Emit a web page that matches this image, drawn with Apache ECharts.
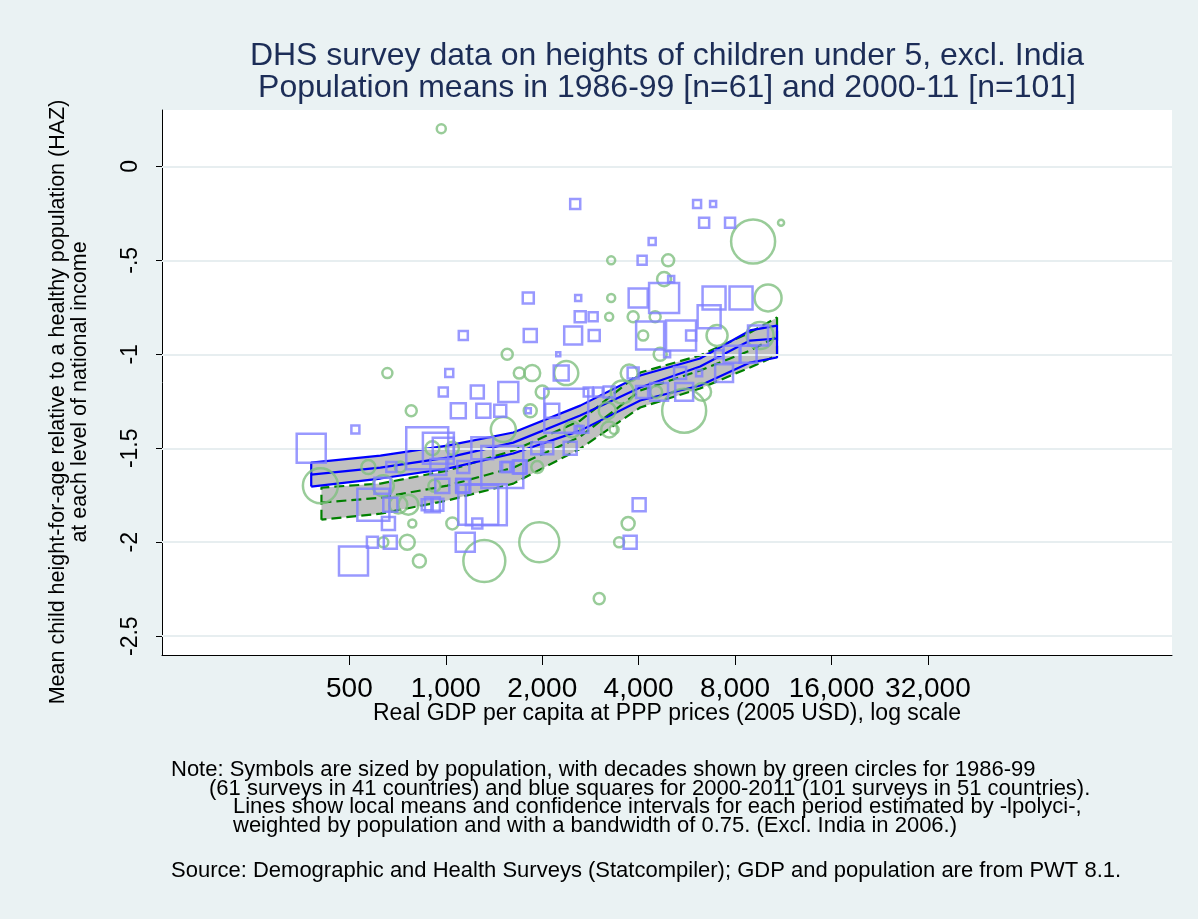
<!DOCTYPE html>
<html><head><meta charset="utf-8">
<script src="https://cdn.jsdelivr.net/npm/echarts@6/dist/echarts.min.js"></script>
<style>html,body{margin:0;padding:0;background:#eaf2f3}#c{width:1198px;height:919px}</style>
</head><body><div id="c"></div>
<script>
// ---------- data ----------
const xTicks = [500, 1000, 2000, 4000, 8000, 16000, 32000];
const yTicks = [-2.5, -2, -1.5, -1, -0.5, 0];
const yTickLabels = ['-2.5', '-2', '-1.5', '-1', '-.5', '0'];

// 1986-99 surveys (green circles): GDP per capita, HAZ, population weight
const greenGdp = [968,3283,4945,4803,3283,3845,4504,3236,4132,9107,11134,10141,7028,9573,4669,3737,2377,3553,3191,3236,3354,4535,6312,5548,3709,3477,3013,780,2000,1835,1555,657,1696,1861,1512,406,573,721,908,1048,638,711,764,786,1048,921,1319,1958,638,758,827,1930,2481];
const greenHaz = [0.2,-0.5,-0.5,-0.6,-0.7,-0.8,-0.8,-0.8,-0.9,-0.4,-0.3,-0.7,-0.9,-0.9,-1.0,-1.1,-1.1,-1.2,-1.3,-1.4,-1.4,-1.2,-1.2,-1.3,-1.9,-2.0,-2.3,-1.3,-1.2,-1.3,-1.0,-1.1,-1.1,-1.1,-1.4,-1.7,-1.6,-1.6,-1.5,-1.5,-1.7,-1.8,-1.8,-1.9,-1.9,-1.7,-2.1,-2.0,-2.0,-2.0,-2.1,-1.6,-1.4];
const greenPop = [5.1,4,9,12.3,4,7.6,7.6,4,6.3,121,2.3,45.6,27.6,45.6,10.6,18,36,33,18,16,5.1,9,20,121,10.6,6.3,7.6,7.6,10.6,10.6,7.6,6.3,7.6,16,39,76.6,12.3,7.6,12.3,10.6,27.6,20,25,4,9,9,110,100,6.3,14,10.6,9,16];

// 2000-11 surveys (blue squares)
const blueGdp = [2535,4408,4101,5053,1809,2590,3986,4803,2628,2884,1134,1835,2498,2906,4344,6088,6831,6404,7716,6878,8351,6639,5426,5832,9434,4908,3845,2292,5389,6177,7392,7130,7830,8785,2628,2784,2990,3236,4101,4634,5548,2445,4014,3763,982,1254,1567,1094,1310,1479,2149,1025,2244,522,380,676,875,948,982,1300,1501,1534,1708,1930,2073,2377,634,594,671,662,590,671,515,875,941,975,1134,948,1263,1338,1254,1150,1555,1696,2590,1128,1134,908,1809];
const blueHaz = [-0.2,-0.4,-0.5,-0.6,-0.7,-0.7,-0.7,-0.7,-0.8,-0.8,-0.9,-0.9,-0.9,-0.9,-0.9,-0.2,-0.2,-0.3,-0.3,-0.7,-0.7,-0.8,-0.9,-0.9,-0.9,-1.0,-1.1,-1.1,-1.1,-1.1,-1.1,-1.0,-1.0,-1.0,-1.4,-1.2,-1.2,-1.2,-1.2,-1.2,-1.2,-1.5,-1.8,-2.0,-1.2,-1.2,-1.2,-1.3,-1.3,-1.3,-1.3,-1.1,-1.0,-1.4,-1.5,-1.6,-1.5,-1.5,-1.5,-1.5,-1.6,-1.6,-1.6,-1.5,-1.5,-1.3,-1.7,-1.8,-1.8,-1.9,-2.0,-2.0,-2.1,-1.8,-1.8,-1.7,-1.7,-1.6,-1.8,-1.8,-1.9,-2.0,-1.6,-1.6,-1.4,-1.7,-1.6,-1.8,-1.3];
const bluePop = [6.3,3.1,5.1,2.3,7.6,2.3,22.6,56.3,7.6,5.1,5.1,10.6,20,7.6,49,4,2.3,6.3,6.3,33,33,33,56.3,6.3,25,2.3,7.6,14,9,2.3,20,4,18,18,3.1,5.1,5.1,7.6,9,20,20,10.6,10.6,10.6,5.1,10.6,25,14,12.3,9,12.3,4,1,4,52.6,6.3,110,60,27.6,30,110,6.3,10.6,9,9,121,16,64,12.3,10.6,7.6,10.6,52.6,7.6,9,12.3,12.3,16,100,105,6.3,22.6,6.3,10.6,3.1,10.6,9,14,1.6];

// local means and confidence intervals (lpolyci)
const blueBandX = [380, 625, 1011, 1624, 2628, 4045, 6221, 8909, 10816];
const blueUpper = [-1.576, -1.539, -1.486, -1.416, -1.273, -1.113, -1.022, -0.873, -0.847];
const blueMean  = [-1.640, -1.603, -1.550, -1.470, -1.326, -1.177, -1.065, -0.927, -0.916];
const blueLower = [-1.704, -1.661, -1.608, -1.528, -1.406, -1.246, -1.166, -1.044, -1.017];

const greenBandX = [409, 625, 1011, 1624, 2628, 4045, 6221, 8909, 10816];
const greenUpper = [-1.709, -1.688, -1.619, -1.512, -1.353, -1.097, -1.006, -0.884, -0.804];
const greenMean  = [-1.789, -1.763, -1.699, -1.603, -1.438, -1.193, -1.086, -0.980, -0.905];
const greenLower = [-1.880, -1.848, -1.778, -1.688, -1.502, -1.283, -1.182, -1.070, -1.006];

// ---------- build ----------
const FONT = '"Liberation Sans", Arial, sans-serif';
const zip2 = (a, b) => a.map((v, i) => [v, b[i]]);
const zip3 = (a, b, c) => a.map((v, i) => [v, b[i], c[i]]);
function outline(x, up, lo) {
  return [[x[0], lo[0]]].concat(zip2(x, up), zip2(x, lo).reverse());
}
function bandFill(x, up, lo) {
  return {
    type: 'custom', silent: true, z: 2, animation: false,
    data: [[x[0], up[0]]],
    renderItem: (p, api) => {
      const pts = [];
      for (let i = 0; i < x.length; i++) pts.push(api.coord([x[i], up[i]]));
      for (let i = x.length - 1; i >= 0; i--) pts.push(api.coord([x[i], lo[i]]));
      return { type: 'polygon', shape: { points: pts }, style: { fill: '#c0c0c0' } };
    }
  };
}
function lineS(data, color, dash, z) {
  return { type: 'line', data: data, symbol: 'none', silent: true, z: z, animation: false,
    lineStyle: { color: color, width: 2.2, type: dash ? [10, 5] : 'solid' } };
}
function txt(x, y, s, size, opts) {
  return Object.assign({ type: 'text', x: x, y: y, silent: true,
    style: Object.assign({ text: s, font: size + 'px ' + FONT, fill: '#000', textVerticalAlign: 'middle', verticalAlign: 'middle' }, opts || {}) });
}
const C = { textAlign: 'center', align: 'center' };

const chart = echarts.init(document.getElementById('c'));
chart.setOption({
  backgroundColor: '#eaf2f3',
  animation: false,
  grid: { left: 162, top: 110, width: 1010, height: 545, show: true, backgroundColor: '#ffffff', borderWidth: 0 },
  xAxis: {
    type: 'log', logBase: 2, min: 130, max: 185000,
    axisLine: { show: true, onZero: false, lineStyle: { color: '#000', width: 1 } },
    axisTick: { show: true, length: 10, customValues: xTicks, lineStyle: { color: '#000' } },
    axisLabel: { customValues: xTicks, fontSize: 28, color: '#000', fontFamily: FONT, margin: 20,
      formatter: v => Number(v).toLocaleString('en-US') },
    splitLine: { show: false }, minorTick: { show: false }
  },
  yAxis: {
    type: 'value', min: -2.6, max: 0.3,
    axisLine: { show: true, onZero: false, lineStyle: { color: '#000', width: 1 } },
    axisTick: { show: true, length: 6, customValues: yTicks, lineStyle: { color: '#000' } },
    axisLabel: { customValues: yTicks, rotate: 90, fontSize: 23, color: '#000', fontFamily: FONT, margin: 20,
      formatter: v => yTickLabels[yTicks.indexOf(Math.round(v * 10) / 10)] },
    splitLine: { show: false }
  },
  series: [
    { type: 'scatter', data: [], z: 1, silent: true,
      markLine: { silent: true, symbol: 'none', animation: false, label: { show: false },
        lineStyle: { color: '#e7eef0', width: 2, type: 'solid' },
        data: yTicks.map(v => ({ yAxis: v })) } },
    bandFill(greenBandX, greenUpper, greenLower),
    bandFill(blueBandX, blueUpper, blueLower),
    lineS(outline(greenBandX, greenUpper, greenLower), '#008000', true, 3),
    lineS(zip2(greenBandX, greenMean), '#008000', true, 3),
    lineS(outline(blueBandX, blueUpper, blueLower), '#0000ff', false, 4),
    lineS(zip2(blueBandX, blueMean), '#0000ff', false, 4),
    { type: 'scatter', data: zip3(greenGdp, greenHaz, greenPop), symbol: 'circle', z: 6, silent: true,
      symbolSize: v => 4 * Math.sqrt(v[2]),
      itemStyle: { color: 'rgba(0,0,0,0)', borderColor: '#7fbf7f', borderWidth: 2.5 } },
    { type: 'scatter', data: zip3(blueGdp, blueHaz, bluePop), symbol: 'rect', z: 6, silent: true,
      symbolSize: v => 4 * Math.sqrt(v[2]),
      itemStyle: { color: 'rgba(0,0,0,0)', borderColor: '#8080ff', borderWidth: 2.5 } }
  ],
  graphic: [
    txt(667, 56, 'DHS survey data on heights of children under 5, excl. India', 32, Object.assign({ fill: '#1c2d57' }, C)),
    txt(667, 88, 'Population means in 1986-99 [n=61] and 2000-11 [n=101]', 32, Object.assign({ fill: '#1c2d57' }, C)),
    Object.assign(txt(58, 402, 'Mean child height-for-age relative to a healthy population (HAZ)', 21.5, C), { rotation: Math.PI / 2 }),
    Object.assign(txt(80, 392, 'at each level of national income', 21.5, C), { rotation: Math.PI / 2 }),
    txt(667, 714, 'Real GDP per capita at PPP prices (2005 USD), log scale', 23, C),
    txt(171, 770, 'Note: Symbols are sized by population, with decades shown by green circles for 1986-99', 22),
    txt(209, 789, '(61 surveys in 41 countries) and blue squares for 2000-2011 (101 surveys in 51 countries).', 22),
    txt(233, 807, 'Lines show local means and confidence intervals for each period estimated by -lpolyci-,', 22),
    txt(233, 826, 'weighted by population and with a bandwidth of 0.75. (Excl. India in 2006.)', 22),
    txt(171, 871, 'Source: Demographic and Health Surveys (Statcompiler); GDP and population are from PWT 8.1.', 22)
  ]
});
</script>
</body></html>
